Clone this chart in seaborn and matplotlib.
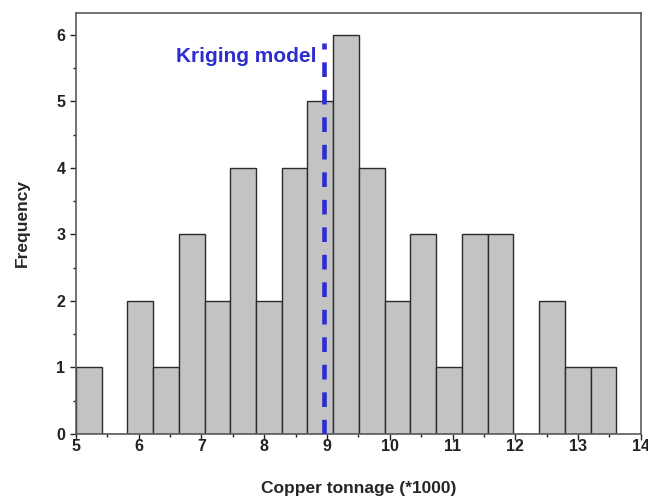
import numpy as np
import pandas as pd
import matplotlib
matplotlib.use("Agg")
import matplotlib.pyplot as plt
from matplotlib.ticker import MultipleLocator
import seaborn as sns

# Histogram of copper tonnage estimates (thousands), 21 equal-width classes
bin_start = 5.0
bin_width = 0.41
frequency = [1, 0, 2, 1, 3, 2, 4, 2, 4, 5, 6, 4, 2, 3, 1, 3, 3, 0, 2, 1, 1]
kriging_estimate = 8.96

edges = bin_start + bin_width * np.arange(len(frequency) + 1)
centers = (edges[:-1] + edges[1:]) / 2
df = pd.DataFrame({"tonnage": centers, "freq": frequency})

sns.set_theme(style="ticks")
plt.rcParams["font.family"] = ["Liberation Sans", "DejaVu Sans"]
plt.rcParams["font.weight"] = "bold"

fig = plt.figure(figsize=(6.48, 5.01), dpi=100)
ax = fig.add_axes([0.117, 0.134, 0.872, 0.840])

sns.histplot(data=df, x="tonnage", weights="freq", bins=list(edges),
             color="#c3c3c3", edgecolor="#2b2b2b", linewidth=1.0,
             alpha=1.0, ax=ax)

ymax = 6.33
ax.axvline(kriging_estimate, ymin=0, ymax=5.88 / ymax, color="#2d2dcf",
           linestyle=(0, (3.2, 2.8)), linewidth=3.3, zorder=5)
ax.text(kriging_estimate - 0.12, 5.68, "Kriging model", color="#2d2dcf",
        fontsize=15, fontweight="bold", ha="right", va="center")

ax.set_xlim(5, 14)
ax.set_ylim(0, ymax)
ax.xaxis.set_major_locator(MultipleLocator(1))
ax.xaxis.set_minor_locator(MultipleLocator(0.5))
ax.yaxis.set_major_locator(MultipleLocator(1))
ax.yaxis.set_minor_locator(MultipleLocator(0.5))

ax.tick_params(which="major", direction="out", length=4, width=1.0,
               colors="#222222", labelsize=11.5)
ax.tick_params(axis="x", which="major", pad=0)
ax.tick_params(which="minor", direction="out", length=2.5, width=1.0,
               colors="#222222")
for lab in ax.get_xticklabels() + ax.get_yticklabels():
    lab.set_fontweight("bold")

for side in ["top", "right", "left", "bottom"]:
    ax.spines[side].set_visible(True)
    ax.spines[side].set_color("#5a5a5a")
    ax.spines[side].set_linewidth(1.2)

ax.set_xlabel("Copper tonnage (*1000)", fontsize=12.5, fontweight="bold",
              labelpad=19)
ax.set_ylabel("Frequency", fontsize=12.5, fontweight="bold", labelpad=19)

fig.savefig("out.png", dpi=100)
